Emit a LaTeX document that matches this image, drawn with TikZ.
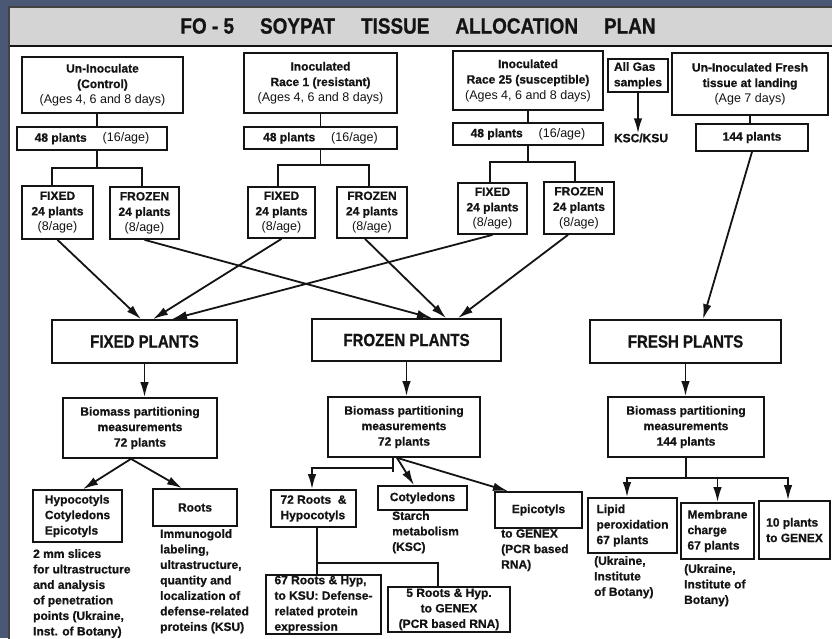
\documentclass[tikz,border=0pt]{standalone}
\usepackage{fontspec}
\setmainfont[BoldFeatures={FakeBold=0.8}]{Liberation Sans}
\newfontfamily\narrowsans[FakeStretch=0.86,BoldFeatures={FakeBold=0.8}]{Liberation Sans}
\usetikzlibrary{arrows.meta}
\definecolor{spacebg}{RGB}{74,88,118}
\definecolor{titlebar}{RGB}{212,212,212}
\definecolor{ink}{RGB}{20,20,20}
\newcommand\boxfont{\bfseries\fontsize{12}{15.5}\selectfont}
\newcommand\agefont{\mdseries\fontsize{12.5}{15.5}\selectfont}

\begin{document}
\begin{tikzpicture}[x=1pt,y=-1pt,
  box/.style={draw=ink, line width=1.7pt, fill=white, inner sep=0pt, align=center, font=\boxfont, text=ink},
  lbox/.style={box, align=left},
  big/.style={box, font=\narrowsans\bfseries\fontsize{17.5}{20}\selectfont},
  note/.style={inner sep=0pt, align=left, anchor=north west, font=\boxfont, text=ink},
  conn/.style={draw=ink, line width=1.8pt},
  arr/.style={conn, -{Latex[length=15pt,width=8.5pt]}},
]
\useasboundingbox (0,0) rectangle (832,638);

% backdrop, sheet and title bar
\begin{scope}
  \clip (0,0) rectangle (832,638);
  \fill[spacebg] (0,0) rectangle (832,638);
  \fill[white] (9,7) rectangle (845,650);
  \fill[titlebar] (9,7) rectangle (845,45);
  \draw[ink, line width=2.4pt] (9,46) -- (845,46);
  \draw[ink!80, line width=1.4pt] (9,650) -- (9,7) -- (845,7);
\end{scope}
\node[font=\narrowsans\bfseries\fontsize{22}{25}\selectfont, text=ink] (title) at (418,26)
  {FO - 5\hspace{26pt}SOYPAT\hspace{26pt}TISSUE\hspace{26pt}ALLOCATION\hspace{26pt}PLAN};

% treatment groups
\node[box, minimum width=161, minimum height=56] (u1) at (102.5,85)
  {Un-Inoculate\\(Control)\\{\agefont (Ages 4, 6 and 8 days)}};
\node[box, minimum width=153, minimum height=60] (u2) at (320.5,83)
  {Inoculated\\Race 1 (resistant)\\{\agefont (Ages 4, 6 and 8 days)}};
\node[box, minimum width=150, minimum height=59] (u3) at (528,80.5)
  {Inoculated\\Race 25 (susceptible)\\{\agefont (Ages 4, 6 and 8 days)}};
\node[lbox, minimum width=60, minimum height=33] (gas) at (638,75.5)
  {All Gas\\samples};
\node[box, minimum width=156, minimum height=62] (fresh) at (750,84)
  {Un-Inoculated Fresh\\tissue at landing\\{\agefont (Age 7 days)}};

% plant counts
\node[box, minimum width=150, minimum height=23] (n1) at (92,138.5)
  {48 plants\hspace{16pt}{\agefont (16/age)}};
\node[box, minimum width=153, minimum height=22] (n2) at (320.5,138)
  {48 plants\hspace{16pt}{\agefont (16/age)}};
\node[box, minimum width=150, minimum height=22] (n3) at (528,134)
  {48 plants\hspace{16pt}{\agefont (16/age)}};
\node[font=\boxfont, text=ink, inner sep=0pt] (ksc) at (641,138) {KSC/KSU};
\node[box, minimum width=112, minimum height=27] (n4) at (752,137.5) {144 plants};

% fixed / frozen splits
\node[box, minimum width=71, minimum height=53] (a1fx) at (57.5,212.5) {FIXED\\24 plants\\{\agefont (8/age)}};
\node[box, minimum width=69, minimum height=52] (a1fz) at (144.5,213) {FROZEN\\24 plants\\{\agefont (8/age)}};
\node[box, minimum width=67, minimum height=51] (a2fx) at (281.5,212.5) {FIXED\\24 plants\\{\agefont (8/age)}};
\node[box, minimum width=70, minimum height=51] (a2fz) at (372,212.5) {FROZEN\\24 plants\\{\agefont (8/age)}};
\node[box, minimum width=69, minimum height=51] (a3fx) at (492.5,208.5) {FIXED\\24 plants\\{\agefont (8/age)}};
\node[box, minimum width=70, minimum height=52] (a3fz) at (579,208) {FROZEN\\24 plants\\{\agefont (8/age)}};

% pooled material
\node[big, minimum width=185, minimum height=43] (fxp) at (144.5,341.5) {FIXED PLANTS};
\node[big, minimum width=189, minimum height=42] (fzp) at (406.5,340) {FROZEN PLANTS};
\node[big, minimum width=191, minimum height=43] (frp) at (685.5,341.5) {FRESH PLANTS};

% biomass measurements
\node[box, minimum width=154, minimum height=60] (bA) at (140,428)
  {Biomass partitioning\\measurements\\72 plants};
\node[box, minimum width=152, minimum height=60] (bB) at (404,427)
  {Biomass partitioning\\measurements\\72 plants};
\node[box, minimum width=156, minimum height=60] (bC) at (686,427)
  {Biomass partitioning\\measurements\\144 plants};

% fixed-plant tissues
\node[lbox, minimum width=89, minimum height=52] (hyp) at (77.5,516) {Hypocotyls\\Cotyledons\\Epicotyls};
\node[box, minimum width=84, minimum height=37] (roots) at (195,507.5) {Roots};
\node[note] (tHyp) at (33,549) {2 mm slices\\for ultrastructure\\and analysis\\of penetration\\points (Ukraine,\\Inst. of Botany)};
\node[note] (tRoots) at (160,529) {Immunogold\\labeling,\\ultrastructure,\\quantity and\\localization of\\defense-related\\proteins (KSU)};

% frozen-plant tissues
\node[lbox, minimum width=85, minimum height=37] (r72) at (313.5,508.5) {72 Roots\ \ \&\\Hypocotyls};
\node[box, minimum width=89, minimum height=24] (cot) at (422.5,498) {Cotyledons};
\node[box, minimum width=87, minimum height=36] (epi) at (538.5,510) {Epicotyls};
\node[note] (tCot) at (392,511) {Starch\\metabolism\\(KSC)};
\node[note] (tEpi) at (501,529) {to GENEX\\(PCR based\\RNA)};
\node[lbox, minimum width=115, minimum height=59] (r67) at (323.5,604.5)
  {67 Roots \& Hyp,\\to KSU: Defense-\\related protein\\expression};
\node[box, minimum width=122, minimum height=45] (r5) at (449,609.5)
  {5 Roots \& Hyp.\\to GENEX\\(PCR based RNA)};

% fresh-plant assays
\node[lbox, minimum width=89, minimum height=55] (lip) at (632.5,525.5) {Lipid\\peroxidation\\67 plants};
\node[lbox, minimum width=73, minimum height=56] (mem) at (717.5,531) {Membrane\\charge\\67 plants};
\node[lbox, minimum width=71, minimum height=58] (ten) at (794.5,530) {10 plants\\to GENEX};
\node[note] (tLip) at (594,556) {(Ukraine,\\Institute\\of Botany)};
\node[note] (tMem) at (684,564) {(Ukraine,\\Institute of\\Botany)};

% junction points
\coordinate (j1) at (97,168);
\coordinate (j2) at (320.5,165);
\coordinate (j3) at (528,162);
\coordinate (tb) at (393,468);
\coordinate (tbe) at (393,472);
\coordinate (tc) at (317,563);
\coordinate (tC) at (686,478);

% groups to counts
\draw[conn] ([xshift=-5.5]u1.south) -- ([xshift=5]n1.north);
\draw[conn] (u2.south) -- (n2.north);
\draw[conn] (u3.south) -- (n3.north);
\draw[conn] (fresh.south) -- (fresh.south |- n4.north);
\draw[arr] (gas.south) -- (gas.south |- ksc.north);

% counts to fixed / frozen
\draw[conn] ([xshift=5]n1.south) -- (j1);
\draw[conn] ([xshift=-5.5]a1fx.north) |- (j1) -| ([xshift=-2.5]a1fz.north);
\draw[conn] (n2.south) -- (j2);
\draw[conn] ([xshift=-3.5]a2fx.north) |- (j2) -| ([xshift=-3]a2fz.north);
\draw[conn] (n3.south) -- (j3);
\draw[conn] ([xshift=-2.5]a3fx.north) |- (j3) -| ([xshift=-4]a3fz.north);

% pooling
\draw[arr] (a1fx.south) -- ([xshift=-3.5]fxp.north);
\draw[arr] (a2fx.south) -- ([xshift=8.5]fxp.north);
\draw[arr] (a3fx.south) -- ([xshift=27.5]fxp.north);
\draw[arr] (a1fz.south) -- ([xshift=25.5]fzp.north);
\draw[arr] ([xshift=-7]a2fz.south) -- ([xshift=39.5]fzp.north);
\draw[arr] ([xshift=-11]a3fz.south) -- ([xshift=51.5]fzp.north);
\draw[arr] (n4.south) -- ([xshift=17.5]frp.north);

% pooled material to biomass
\draw[arr] (fxp.south) -- (fxp.south |- bA.north);
\draw[arr] (fzp.south) -- (fzp.south |- bB.north);
\draw[arr] (frp.south) -- (frp.south |- bC.north);

% fixed plants: tissues
\draw[arr] ([xshift=-9]bA.south) -- ([xshift=5.5]hyp.north);
\draw[arr] ([xshift=-9]bA.south) -- ([xshift=-13]roots.north);

% frozen plants: tissues
\draw[conn] (bB.south -| tb) -- (tbe);
\draw[arr] (tb) -| ([xshift=-1.5]r72.north);
\draw[arr] ([xshift=-7]bB.south) -- ([xshift=-8.5]cot.north);
\draw[arr] ([xshift=-7]bB.south) -- ([xshift=-30.5]epi.north);
\draw[conn] ([xshift=3.5]r72.south) -- ([xshift=-6.5]r67.north);
\draw[conn] (tc) -| ([xshift=-11]r5.north);

% fresh plants: assays
\draw[conn] (bC.south) -- (tC);
\draw[arr] (tC) -| ([xshift=-5.5]lip.north);
\draw[arr] (tC -| mem.north) -- (mem.north);
\draw[arr] (tC) -| ([xshift=-6.5]ten.north);
\end{tikzpicture}
\end{document}
